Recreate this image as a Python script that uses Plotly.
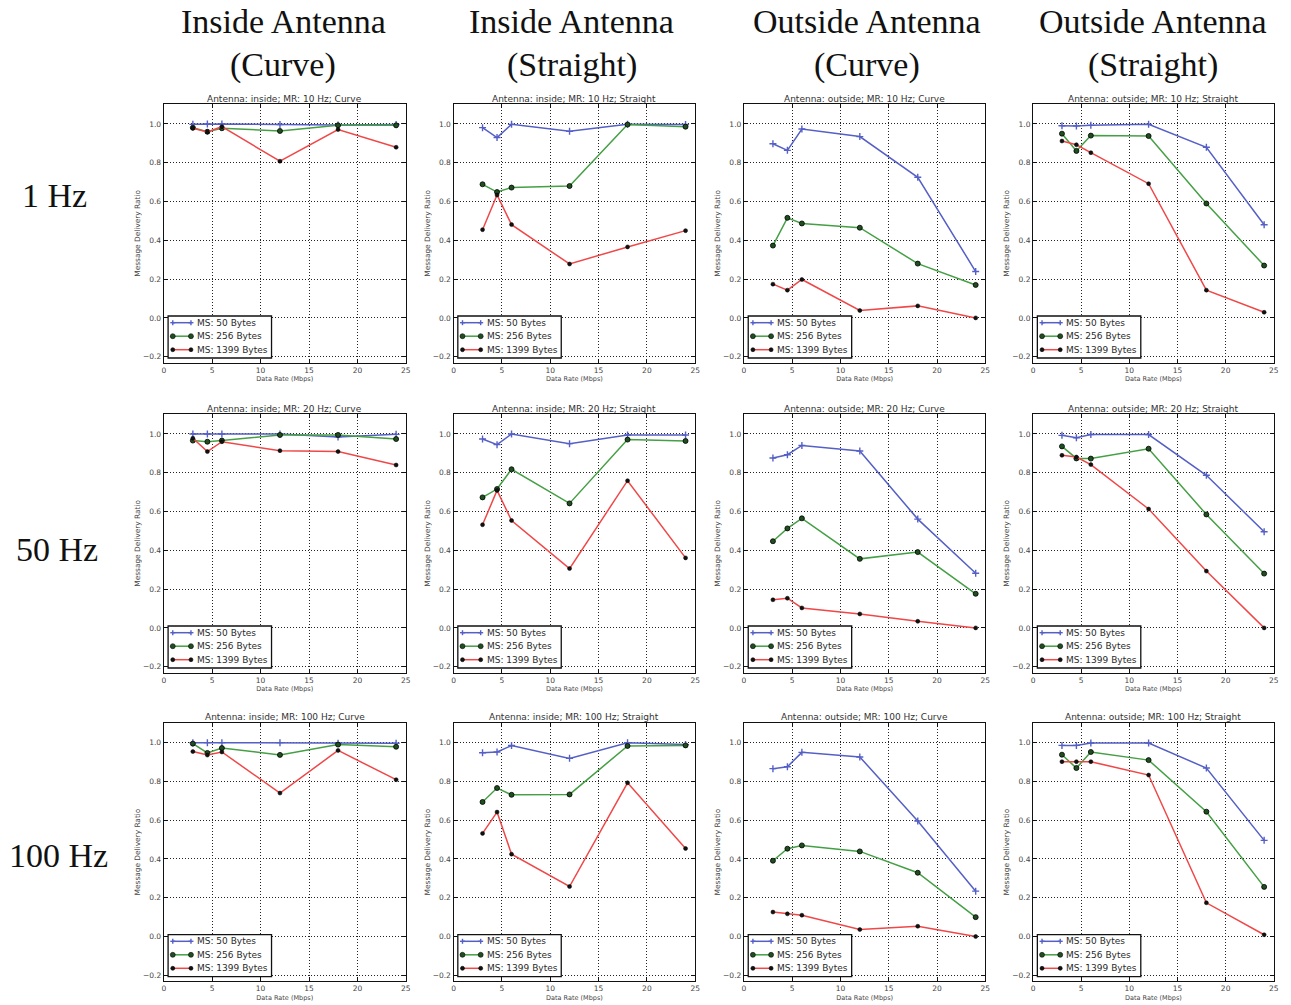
import plotly.graph_objects as go

# Data rates (Mbps) used in every panel
data_rates = [3, 4.5, 6, 12, 18, 24]

# Message delivery ratio per panel: [MS 50 B, MS 256 B, MS 1399 B]
in_curve_10 = [[0.998, 1.0, 1.0, 0.997, 0.995, 0.997],
               [0.981, 0.960, 0.978, 0.964, 0.993, 0.993],
               [0.978, 0.959, 0.986, 0.808, 0.971, 0.880]]
in_straight_10 = [[0.981, 0.930, 0.998, 0.962, 0.998, 0.997],
                  [0.689, 0.649, 0.672, 0.680, 0.997, 0.986],
                  [0.455, 0.634, 0.481, 0.278, 0.366, 0.450]]
out_curve_10 = [[0.898, 0.864, 0.974, 0.935, 0.725, 0.239],
                [0.373, 0.516, 0.487, 0.465, 0.280, 0.170],
                [0.174, 0.143, 0.198, 0.038, 0.062, 0.0]]
out_straight_10 = [[0.991, 0.990, 0.993, 0.998, 0.880, 0.480],
                   [0.950, 0.861, 0.940, 0.938, 0.590, 0.270],
                   [0.912, 0.893, 0.852, 0.692, 0.143, 0.029]]

in_curve_20 = [[1.0, 1.0, 1.0, 1.0, 0.985, 0.998],
               [0.966, 0.960, 0.966, 0.995, 0.995, 0.974],
               [0.978, 0.909, 0.960, 0.914, 0.909, 0.840]]
in_straight_20 = [[0.974, 0.945, 1.0, 0.950, 0.995, 0.995],
                  [0.673, 0.716, 0.818, 0.642, 0.971, 0.964],
                  [0.532, 0.709, 0.554, 0.306, 0.759, 0.361]]
out_curve_20 = [[0.876, 0.893, 0.941, 0.912, 0.561, 0.282],
                [0.447, 0.513, 0.565, 0.356, 0.391, 0.176],
                [0.145, 0.153, 0.103, 0.072, 0.034, 0.0]]
out_straight_20 = [[0.993, 0.980, 0.997, 0.997, 0.787, 0.496],
                   [0.936, 0.874, 0.873, 0.924, 0.585, 0.280],
                   [0.890, 0.881, 0.842, 0.613, 0.293, 0.0]]

in_curve_100 = [[1.0, 1.0, 1.0, 1.0, 0.997, 0.997],
                [0.995, 0.947, 0.972, 0.937, 0.990, 0.979],
                [0.954, 0.936, 0.952, 0.740, 0.960, 0.809]]
in_straight_100 = [[0.948, 0.952, 0.985, 0.919, 1.0, 0.990],
                   [0.694, 0.766, 0.731, 0.733, 0.983, 0.986],
                   [0.532, 0.642, 0.425, 0.258, 0.793, 0.454]]
out_curve_100 = [[0.866, 0.876, 0.950, 0.926, 0.596, 0.234],
                 [0.391, 0.453, 0.470, 0.439, 0.329, 0.100],
                 [0.126, 0.117, 0.110, 0.036, 0.053, 0.0]]
out_straight_100 = [[0.986, 0.986, 0.998, 0.998, 0.869, 0.496],
                    [0.938, 0.869, 0.952, 0.910, 0.644, 0.256],
                    [0.902, 0.902, 0.902, 0.833, 0.174, 0.009]]

series_names = ["MS: 50 Bytes", "MS: 256 Bytes", "MS: 1399 Bytes"]
column_headers = [("Inside Antenna", "(Curve)"), ("Inside Antenna", "(Straight)"),
                  ("Outside Antenna", "(Curve)"), ("Outside Antenna", "(Straight)")]
row_labels = ["1 Hz", "50 Hz", "100 Hz"]
panel_rates = ["10 Hz", "20 Hz", "100 Hz"]
panel_antenna = ["inside", "inside", "outside", "outside"]
panel_route = ["Curve", "Straight", "Curve", "Straight"]

panels = [[in_curve_10, in_straight_10, out_curve_10, out_straight_10],
          [in_curve_20, in_straight_20, out_curve_20, out_straight_20],
          [in_curve_100, in_straight_100, out_curve_100, out_straight_100]]

# Styling
W, H = 1291, 1005
line_colors = ["#5560c6", "#45a045", "#f04848"]
marker_fill = ["#5560c6", "#1f4f1f", "#111111"]
marker_styles = [
    dict(symbol="cross-thin", size=5, line=dict(color="#5560c6", width=1.4), color="#5560c6"),
    dict(symbol="circle", size=5, color="#1f4f1f", line=dict(color="#000", width=0.8)),
    dict(symbol="circle", size=4, color="#111", line=dict(color="#000", width=0.5)),
]

# Frame positions of each panel in pixels
col_px = [(162.7, 406.0), (454.0, 697.0), (746.0, 988.7), (1036.7, 1278.7)]
row_px = [(104.0, 362.7), (414.0, 672.7), (722.7, 981.3)]

serif = "Liberation Serif, Times New Roman, serif"
sans = "DejaVu Sans, sans-serif"


def px(x):
    return x / W


def py(y):
    return 1 - y / H


fig = go.Figure()
annotations = []
shapes = []
layout_extra = {}


def add_legend(x0, bot):
    """Boxed legend in the lower-left corner of a panel (drawn with shapes)."""
    shapes.append(dict(type="rect", xref="paper", yref="paper",
                       x0=px(x0 + 4.3), x1=px(x0 + 108.3),
                       y0=py(bot - 4.7), y1=py(bot - 46.7),
                       fillcolor="#fff", line=dict(color="#111", width=1.3), layer="above"))
    row_offsets = [40.0, 26.5, 13.0]
    lx0, lx1 = x0 + 9.0, x0 + 27.3
    for k, off in enumerate(row_offsets):
        yy = bot - off
        shapes.append(dict(type="line", xref="paper", yref="paper",
                           x0=px(lx0), x1=px(lx1), y0=py(yy), y1=py(yy),
                           line=dict(color=line_colors[k], width=1.5), layer="above"))
        for mx in (lx0, lx1):
            if k == 0:
                shapes.append(dict(type="line", xref="paper", yref="paper",
                                   x0=px(mx - 2.5), x1=px(mx + 2.5), y0=py(yy), y1=py(yy),
                                   line=dict(color=line_colors[0], width=1.4), layer="above"))
                shapes.append(dict(type="line", xref="paper", yref="paper",
                                   x0=px(mx), x1=px(mx), y0=py(yy - 2.5), y1=py(yy + 2.5),
                                   line=dict(color=line_colors[0], width=1.4), layer="above"))
            else:
                rr = 2.5 if k == 1 else 2.0
                shapes.append(dict(type="circle", xref="paper", yref="paper",
                                   x0=px(mx - rr), x1=px(mx + rr),
                                   y0=py(yy - rr), y1=py(yy + rr),
                                   fillcolor=marker_fill[k], line=dict(color="#000", width=0.6),
                                   layer="above"))
        annotations.append(dict(
            text=series_names[k], x=px(x0 + 31.5), y=py(yy), xref="paper", yref="paper",
            xanchor="left", yanchor="middle", showarrow=False,
            font=dict(family=sans, size=9, color="#2a2a2a"),
        ))


for r in range(3):
    for c in range(4):
        idx = r * 4 + c + 1
        sfx = "" if idx == 1 else str(idx)
        xa, ya = "x" + sfx, "y" + sfx
        x0, x1 = col_px[c]
        top, bot = row_px[r]
        for k in range(3):
            fig.add_trace(go.Scatter(
                x=data_rates, y=panels[r][c][k], mode="lines+markers",
                name=series_names[k], xaxis=xa, yaxis=ya,
                line=dict(color=line_colors[k], width=1.5),
                marker=marker_styles[k], showlegend=False,
            ))
        axis_common = dict(
            showline=True, linecolor="#111", linewidth=1.3, mirror="ticks",
            ticks="inside", ticklen=4, tickcolor="#111", tickwidth=0.8,
            showgrid=True, gridcolor="#222", griddash="1px,2px", gridwidth=1,
            zeroline=False, tickfont=dict(family=sans, size=7.5, color="#444"),
        )
        layout_extra["xaxis" + sfx] = dict(
            axis_common, domain=[px(x0), px(x1)], range=[0, 25],
            tickvals=[0, 5, 10, 15, 20, 25], anchor=ya,
            title=dict(text="Data Rate (Mbps)", font=dict(family=sans, size=6.5, color="#444"), standoff=2),
        )
        layout_extra["yaxis" + sfx] = dict(
            axis_common, domain=[py(bot), py(top)], range=[-0.231, 1.103],
            tickvals=[-0.2, 0, 0.2, 0.4, 0.6, 0.8, 1.0], tickformat=".1f", anchor=xa,
            title=dict(text="Message Delivery Ratio", font=dict(family=sans, size=7.4, color="#444"), standoff=1),
        )
        add_legend(x0, bot)
        annotations.append(dict(
            text=f"Antenna: {panel_antenna[c]}; MR: {panel_rates[r]}; {panel_route[c]}",
            x=px((x0 + x1) / 2), y=py(top - 5.5), xref="paper", yref="paper",
            xanchor="center", yanchor="middle", showarrow=False,
            font=dict(family=sans, size=9, color="#333"),
        ))

# Column headers
header_cx = [283, 573, 870, 1157]
for c, (l1, l2) in enumerate(column_headers):
    for txt, cy in ((l1, 22), (l2, 65)):
        annotations.append(dict(
            text=txt, x=px(header_cx[c]), y=py(cy), xref="paper", yref="paper",
            xanchor="center", yanchor="middle", showarrow=False,
            font=dict(family=serif, size=34, color="#111"),
        ))

# Row labels
row_pos = [(53, 196), (55, 549), (57, 855)]
for lbl, (cx, cy) in zip(row_labels, row_pos):
    annotations.append(dict(
        text=lbl, x=px(cx), y=py(cy), xref="paper", yref="paper",
        xanchor="center", yanchor="middle", showarrow=False,
        font=dict(family=serif, size=34, color="#111"),
    ))

fig.update_layout(
    width=W, height=H, margin=dict(l=0, r=0, t=0, b=0),
    paper_bgcolor="#fff", plot_bgcolor="#fff",
    annotations=annotations, shapes=shapes, showlegend=False,
    **layout_extra,
)

fig.write_html("out.html")
